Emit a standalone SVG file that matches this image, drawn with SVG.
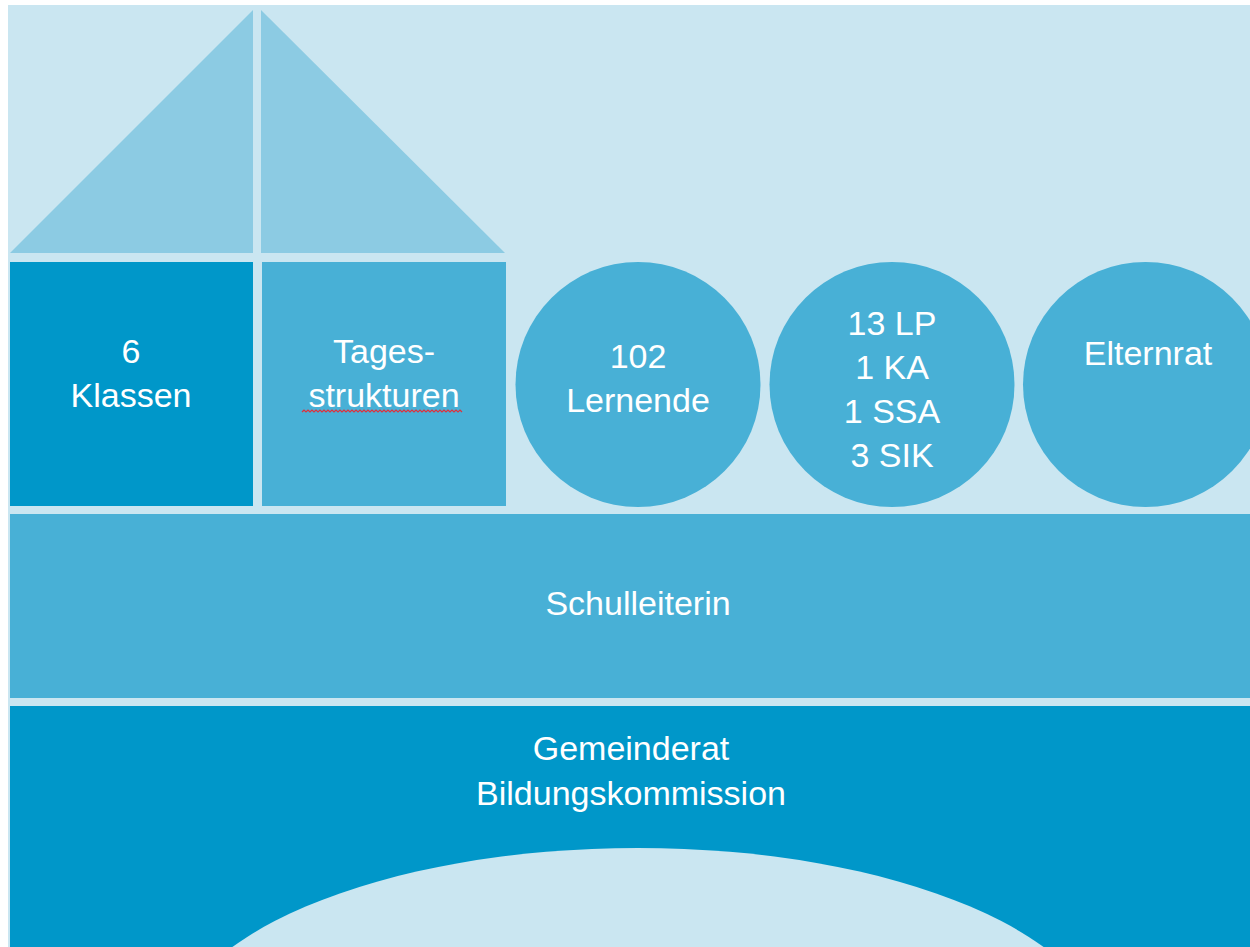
<svg xmlns="http://www.w3.org/2000/svg" width="1250" height="947" viewBox="0 0 1250 947">
<style>
.bg{fill:#cae6f1}
.tri{fill:#8ccbe3}
.dark{fill:#0097c9}
.mid{fill:#48b0d6}
.lbl{font-family:"Liberation Sans",Arial,sans-serif;font-size:34px;fill:#ffffff;text-anchor:middle}
</style>
<rect x="0" y="0" width="1250" height="947" fill="#ffffff"/>
<rect class="bg" x="8" y="5" width="1242" height="942"/>
<g id="roof-left"><polygon class="tri" points="10,253 253,10 253,253"/></g>
<g id="roof-right"><polygon class="tri" points="261,10 505,253 261,253"/></g>
<g id="klassen">
<rect class="dark" x="10" y="262" width="243" height="244"/>
<text class="lbl" x="131" y="363">6</text>
<text class="lbl" x="131" y="407">Klassen</text>
</g>
<g id="tagesstrukturen">
<rect class="mid" x="262" y="262" width="244" height="244"/>
<text class="lbl" x="384" y="363">Tages-</text>
<text class="lbl" x="384" y="407">strukturen</text>
<path d="M302,412 l2,-2 l2,2 l2,-2 l2,2 l2,-2 l2,2 l2,-2 l2,2 l2,-2 l2,2 l2,-2 l2,2 l2,-2 l2,2 l2,-2 l2,2 l2,-2 l2,2 l2,-2 l2,2 l2,-2 l2,2 l2,-2 l2,2 l2,-2 l2,2 l2,-2 l2,2 l2,-2 l2,2 l2,-2 l2,2 l2,-2 l2,2 l2,-2 l2,2 l2,-2 l2,2 l2,-2 l2,2 l2,-2 l2,2 l2,-2 l2,2 l2,-2 l2,2 l2,-2 l2,2 l2,-2 l2,2 l2,-2 l2,2 l2,-2 l2,2 l2,-2 l2,2 l2,-2 l2,2 l2,-2 l2,2 l2,-2 l2,2 l2,-2 l2,2 l2,-2 l2,2 l2,-2 l2,2 l2,-2 l2,2 l2,-2 l2,2 l2,-2 l2,2 l2,-2 l2,2 l2,-2 l2,2 l2,-2 l2,2" fill="none" stroke="#e0303a" stroke-width="1.2"/>
</g>
<g id="lernende">
<circle class="mid" cx="638" cy="384.5" r="122.5"/>
<text class="lbl" x="638" y="368">102</text>
<text class="lbl" x="638" y="412">Lernende</text>
</g>
<g id="personal">
<circle class="mid" cx="892" cy="384.5" r="122.5"/>
<text class="lbl" x="892" y="335">13 LP</text>
<text class="lbl" x="892" y="379">1 KA</text>
<text class="lbl" x="892" y="423">1 SSA</text>
<text class="lbl" x="892" y="467">3 SIK</text>
</g>
<g id="elternrat">
<circle class="mid" cx="1145.5" cy="384.5" r="122.5"/>
<text class="lbl" x="1148" y="365">Elternrat</text>
</g>
<g id="schulleiterin">
<rect class="mid" x="10" y="514" width="1240" height="184"/>
<text class="lbl" x="638" y="615">Schulleiterin</text>
</g>
<g id="gemeinderat">
<rect class="dark" x="10" y="706" width="1240" height="241"/>
<text class="lbl" x="631" y="760">Gemeinderat</text>
<text class="lbl" x="631" y="805">Bildungskommission</text>
<ellipse class="bg" cx="638" cy="1048" rx="470" ry="200"/>
</g>
<g id="connectors"></g>
</svg>
